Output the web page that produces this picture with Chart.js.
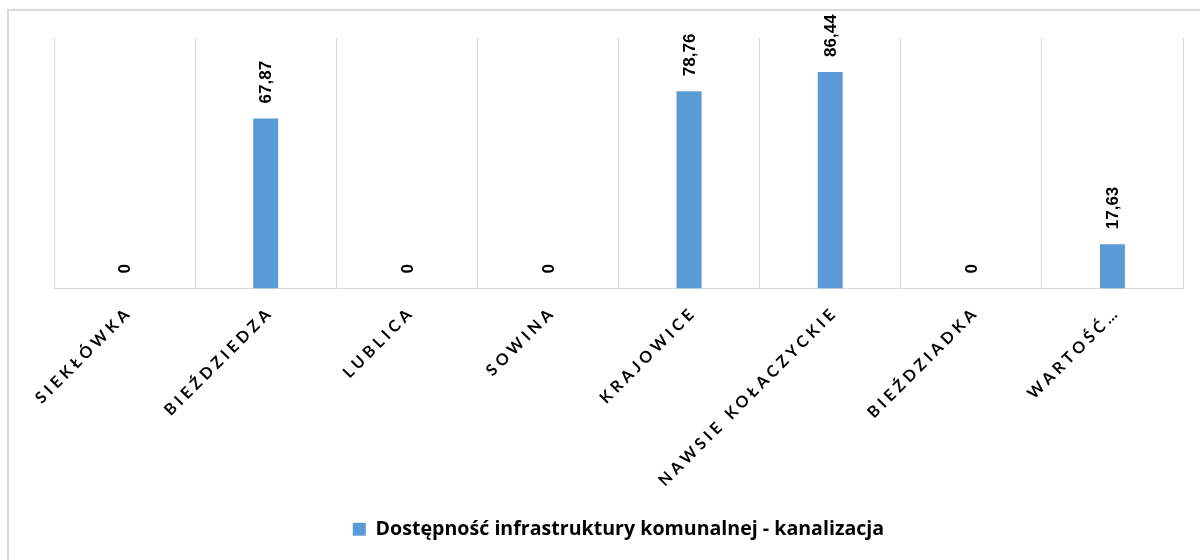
<!DOCTYPE html>
<html lang="pl">
<head>
<meta charset="utf-8">
<title>Dostępność infrastruktury komunalnej - kanalizacja</title>
<script src="https://cdn.jsdelivr.net/npm/chart.js@4.4.1/dist/chart.umd.min.js"></script>
<style>
  html, body { margin: 0; padding: 0; background: #fff; overflow: hidden; }
  #frame {
    position: absolute; left: 7px; top: 9px;
    width: 1400px; height: 800px;
    border: 2px solid #d9d9d9;
  }
  #wrap { position: absolute; left: 0; top: 0; width: 1200px; height: 560px; }
</style>
</head>
<body>
<div id="frame"></div>
<div id="wrap"><canvas id="chart"></canvas></div>
<script>
// miejscowości (etykiety osi X) i wartości serii
const categories = ["SIEKŁÓWKA", "BIEŹDZIEDZA", "LUBLICA", "SOWINA", "KRAJOWICE", "NAWSIE KOŁACZYCKIE", "BIEŹDZIADKA", "WARTOŚĆ…"];
const kanalizacja = [0, 67.87, 0, 0, 78.76, 86.44, 0, 17.63];
const seriesName = "Dostępność infrastruktury komunalnej - kanalizacja";

const BLUE = "#5B9BD5";
const GRID = "#d9d9d9";

// -------------------------------------------------------------
// etykiety wartości nad słupkami (obrócone o 90°)
// -------------------------------------------------------------
const valueLabels = {
  id: "valueLabels",
  afterDatasetsDraw(chart) {
    const ctx = chart.ctx;
    const meta = chart.getDatasetMeta(0);
    ctx.save();
    ctx.font = "bold 17px 'Liberation Sans', Arial, sans-serif";
    ctx.fillStyle = "#000";
    ctx.textAlign = "left";
    ctx.textBaseline = "middle";
    meta.data.forEach((bar, i) => {
      const txt = String(kanalizacja[i]).replace(".", ",");
      ctx.save();
      ctx.translate(bar.x + 1, bar.y - 15);
      ctx.rotate(-Math.PI / 2);
      ctx.fillText(txt, 0, 0);
      ctx.restore();
    });
    ctx.restore();
  }
};

// -------------------------------------------------------------
// etykiety kategorii pod osią – 45°, rozstrzelone litery
// -------------------------------------------------------------
const categoryLabels = {
  id: "categoryLabels",
  afterDraw(chart) {
    const ctx = chart.ctx;
    const xs = chart.scales.x;
    const bottom = chart.chartArea.bottom;
    ctx.save();
    ctx.font = "bold 16px Lato, 'Open Sans', sans-serif";
    ctx.letterSpacing = "4px";
    ctx.fillStyle = "#000";
    ctx.textAlign = "right";
    ctx.textBaseline = "middle";
    categories.forEach((lab, i) => {
      const x = xs.getPixelForTick(i);
      ctx.save();
      ctx.translate(x + 5, bottom + 21);
      ctx.rotate(-Math.PI / 4);
      ctx.fillText(lab, 0, 0);
      ctx.restore();
    });
    ctx.restore();
  }
};

new Chart(document.getElementById("chart"), {
  type: "bar",
  data: {
    labels: categories,
    datasets: [{
      label: seriesName,
      data: kanalizacja,
      backgroundColor: BLUE,
      borderWidth: 0,
      categoryPercentage: 1,
      barPercentage: 0.177
    }]
  },
  options: {
    responsive: true,
    maintainAspectRatio: false,
    animation: false,
    layout: { padding: { left: 54, right: 17, top: 38, bottom: 11 } },
    plugins: {
      tooltip: { enabled: false },
      legend: {
        position: "bottom",
        labels: {
          boxWidth: 13,
          boxHeight: 13,
          color: "#000",
          font: { family: "'Open Sans', Lato, sans-serif", size: 19.6, weight: "bold" }
        }
      }
    },
    scales: {
      x: {
        grid: { color: GRID, lineWidth: 1, offset: true, drawTicks: false },
        border: { color: GRID, width: 1 },
        ticks: { display: false },
        afterFit(scale) { scale.height = 221; }
      },
      y: {
        display: false,
        min: 0,
        max: 100
      }
    }
  },
  plugins: [valueLabels, categoryLabels]
});
</script>
</body>
</html>
